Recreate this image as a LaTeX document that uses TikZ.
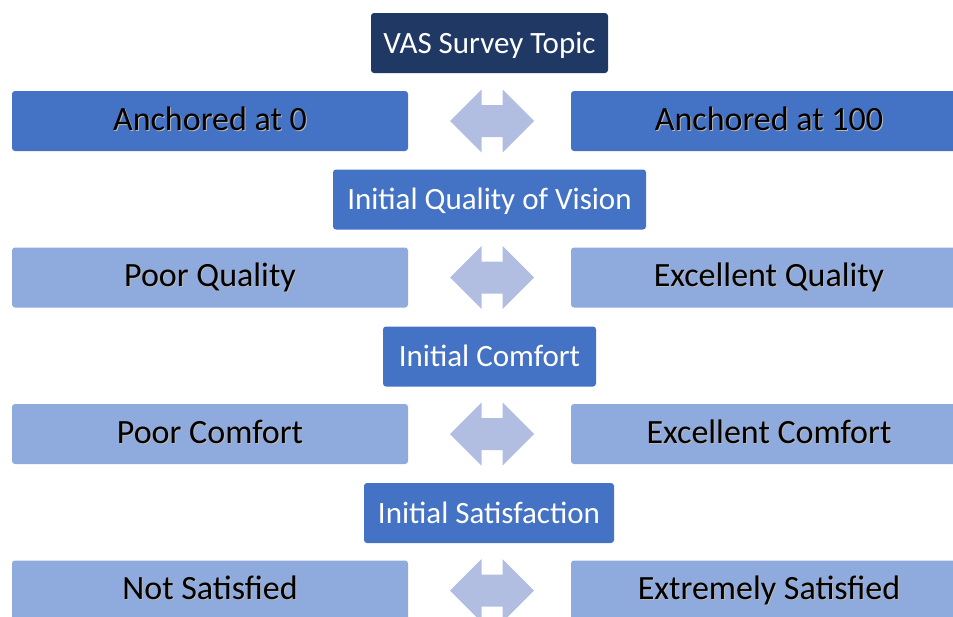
\documentclass[tikz,border=0pt]{standalone}
\usepackage{fontspec}
\setmainfont{Carlito}
\definecolor{navy}{HTML}{203864}
\definecolor{midblue}{HTML}{4472C4}
\definecolor{lightblue}{HTML}{8FAADC}
\definecolor{arrowcol}{HTML}{B1BEE1}
\newcommand\shtxt[1]{\makebox[0pt][l]{\hspace{1pt}\raisebox{-1pt}{\textcolor{black!28}{#1}}}#1}
\tikzset{
  topbox/.style={fill=navy, rounded corners=3pt, minimum height=60pt, inner sep=0pt, text=white, text height=20pt, text depth=0pt, font=\fontsize{31}{36}\selectfont},
  headbox/.style={fill=midblue, rounded corners=3pt, minimum height=60pt, inner sep=0pt, text=white, text height=20pt, text depth=0pt, font=\fontsize{31}{36}\selectfont},
  rowbox/.style={rounded corners=3pt, minimum width=396pt, minimum height=60pt, inner sep=0pt, text=black, text height=22pt, text depth=4pt, font=\fontsize{34}{40}\selectfont},
  dblarrow/.pic={\fill[arrowcol] (-42,0) -- (-10.5,-31.5) -- (-10.5,-16) -- (10.5,-16) -- (10.5,-31.5) -- (42,0) -- (10.5,31.5) -- (10.5,16) -- (-10.5,16) -- (-10.5,31.5) -- cycle;}
}
\begin{document}
\begin{tikzpicture}[x=1pt,y=-1pt]
\useasboundingbox (0,0) rectangle (953,616);
\clip (0,0) rectangle (953,616);
\node[topbox, minimum width=237pt] (top) at (489.5,43) {VAS Survey Topic};
\node[rowbox, fill=midblue] (l1) at (210,121) {\shtxt{Anchored at 0}};
\node[rowbox, fill=midblue] (r1) at (769,121) {\shtxt{Anchored at 100}};
\pic at (492,121) {dblarrow};
\node[headbox, minimum width=313pt] (h2) at (489.5,199.5) {Initial Quality of Vision};
\node[rowbox, fill=lightblue] (l2) at (210,277.5) {\shtxt{Poor Quality}};
\node[rowbox, fill=lightblue] (r2) at (769,277.5) {\shtxt{Excellent Quality}};
\pic at (492,277.5) {dblarrow};
\node[headbox, minimum width=213pt] (h3) at (489.5,356.5) {Initial Comfort};
\node[rowbox, fill=lightblue] (l3) at (210,434) {\shtxt{Poor Comfort}};
\node[rowbox, fill=lightblue] (r3) at (769,434) {\shtxt{Excellent Comfort}};
\pic at (492,434) {dblarrow};
\node[headbox, minimum width=250pt] (h4) at (489,513) {Initial Satisfaction};
\node[rowbox, fill=lightblue] (l4) at (210,590.5) {\shtxt{Not Satisfied}};
\node[rowbox, fill=lightblue] (r4) at (769,590.5) {\shtxt{Extremely Satisfied}};
\pic at (492,590.5) {dblarrow};
\end{tikzpicture}
\end{document}
